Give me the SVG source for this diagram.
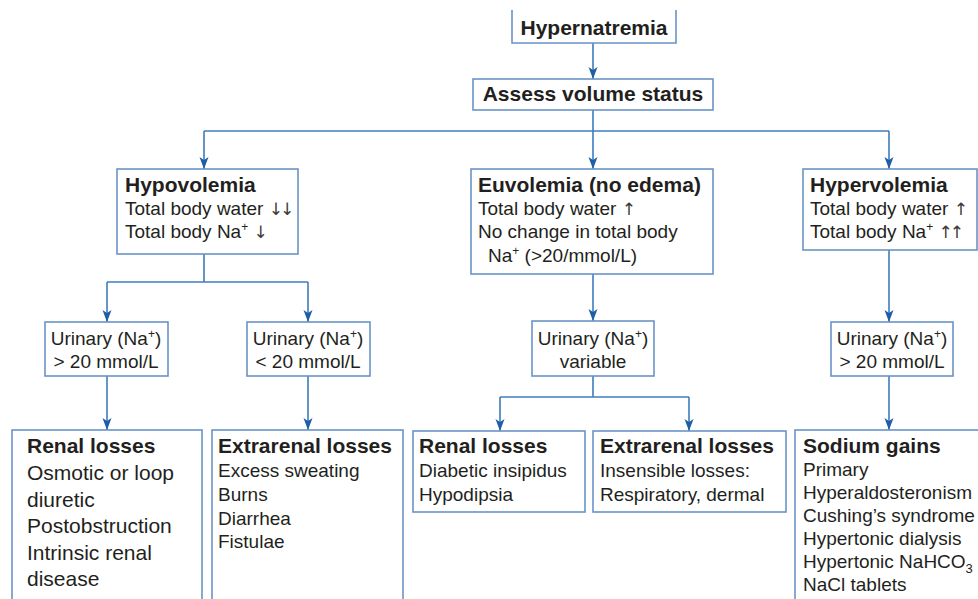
<svg xmlns="http://www.w3.org/2000/svg" width="978" height="599" viewBox="0 0 978 599">
<style>
.box{fill:#ffffff;stroke:#6a93c6;stroke-width:1.6}
.con{fill:none;stroke:#3f7cbc;stroke-width:1.6}
text{font-family:"Liberation Sans",Arial,Helvetica,sans-serif;fill:#231f20}
.h{font-size:21px;font-weight:bold}
.b{font-size:19px}
.bl{font-size:21px}
.c{text-anchor:middle}
.ar{font-family:"DejaVu Sans",sans-serif;fill:#3a3a3a;font-size:17px;letter-spacing:-3px}
</style>
<defs>
<marker id="ah" markerUnits="userSpaceOnUse" markerWidth="12" markerHeight="10" refX="12" refY="5" orient="auto">
<path d="M0,0.5 L12,5 L0,9.5 L3,5 z" fill="#1f5ea6"/>
</marker>
</defs>
<rect width="978" height="599" fill="#ffffff"/>

<g id="connectors">
<path class="con" d="M593,43 V79" marker-end="url(#ah)"/>
<path class="con" d="M593,110 V131"/>
<path class="con" d="M204,131 H889"/>
<path class="con" d="M204,131 V169" marker-end="url(#ah)"/>
<path class="con" d="M593,131 V169" marker-end="url(#ah)"/>
<path class="con" d="M889,131 V169" marker-end="url(#ah)"/>
<path class="con" d="M204,254 V282"/>
<path class="con" d="M107,282 H308"/>
<path class="con" d="M107,282 V322" marker-end="url(#ah)"/>
<path class="con" d="M308,282 V322" marker-end="url(#ah)"/>
<path class="con" d="M107,376 V430" marker-end="url(#ah)"/>
<path class="con" d="M308,376 V430" marker-end="url(#ah)"/>
<path class="con" d="M593,274 V321" marker-end="url(#ah)"/>
<path class="con" d="M593,376 V397"/>
<path class="con" d="M500,397 H689"/>
<path class="con" d="M500,397 V431" marker-end="url(#ah)"/>
<path class="con" d="M689,397 V431" marker-end="url(#ah)"/>
<path class="con" d="M889,250 V322" marker-end="url(#ah)"/>
<path class="con" d="M889,376 V430" marker-end="url(#ah)"/>
</g>

<g id="hypernatremia">
<path class="box" d="M512,10 V43 H676 V10"/>
<text class="h c" x="594" y="35">Hypernatremia</text>
</g>

<g id="assess">
<rect class="box" x="473" y="79" width="240" height="31"/>
<text class="h c" x="593" y="101">Assess volume status</text>
</g>

<g id="hypovolemia">
<rect class="box" x="117" y="169" width="181" height="85"/>
<text class="h" x="125" y="192">Hypovolemia</text>
<text class="b" x="125" y="215">Total body water <tspan class="ar">↓↓</tspan></text>
<text class="b" x="125" y="238">Total body Na<tspan font-size="12" dy="-7">+</tspan><tspan dy="7"> </tspan><tspan class="ar">↓</tspan></text>
</g>

<g id="euvolemia">
<rect class="box" x="471" y="169" width="242" height="105"/>
<text class="h" x="478" y="192">Euvolemia (no edema)</text>
<text class="b" x="478" y="215">Total body water <tspan class="ar">↑</tspan></text>
<text class="b" x="478" y="238">No change in total body</text>
<text class="b" x="488" y="262">Na<tspan font-size="12" dy="-7">+</tspan><tspan dy="7"> (&gt;20/mmol/L)</tspan></text>
</g>

<g id="hypervolemia">
<rect class="box" x="803" y="169" width="174" height="81"/>
<text class="h" x="810" y="192">Hypervolemia</text>
<text class="b" x="810" y="215">Total body water <tspan class="ar">↑</tspan></text>
<text class="b" x="810" y="238">Total body Na<tspan font-size="12" dy="-7">+</tspan><tspan dy="7"> </tspan><tspan class="ar">↑↑</tspan></text>
</g>

<g id="urinary-high-hypo">
<rect class="box" x="45" y="322" width="123" height="54"/>
<text class="b c" x="106" y="345">Urinary (Na<tspan font-size="12" dy="-7">+</tspan><tspan dy="7">)</tspan></text>
<text class="b c" x="106" y="368">&gt; 20 mmol/L</text>
</g>

<g id="urinary-low-hypo">
<rect class="box" x="247" y="322" width="123" height="54"/>
<text class="b c" x="308" y="345">Urinary (Na<tspan font-size="12" dy="-7">+</tspan><tspan dy="7">)</tspan></text>
<text class="b c" x="308" y="368">&lt; 20 mmol/L</text>
</g>

<g id="urinary-variable">
<rect class="box" x="532" y="321" width="122" height="55"/>
<text class="b c" x="593" y="345">Urinary (Na<tspan font-size="12" dy="-7">+</tspan><tspan dy="7">)</tspan></text>
<text class="b c" x="593" y="368">variable</text>
</g>

<g id="urinary-high-hyper">
<rect class="box" x="831" y="322" width="122" height="54"/>
<text class="b c" x="892" y="345">Urinary (Na<tspan font-size="12" dy="-7">+</tspan><tspan dy="7">)</tspan></text>
<text class="b c" x="892" y="368">&gt; 20 mmol/L</text>
</g>

<g id="renal-losses-hypo">
<rect class="box" x="12" y="430" width="190" height="190"/>
<text class="h" x="27" y="453">Renal losses</text>
<text class="bl" x="27" y="480">Osmotic or loop</text>
<text class="bl" x="27" y="507">diuretic</text>
<text class="bl" x="27" y="533">Postobstruction</text>
<text class="bl" x="27" y="560">Intrinsic renal</text>
<text class="bl" x="27" y="586">disease</text>
</g>

<g id="extrarenal-losses-hypo">
<rect class="box" x="212" y="430" width="191" height="190"/>
<text class="h" x="218" y="453">Extrarenal losses</text>
<text class="b" x="218" y="477">Excess sweating</text>
<text class="b" x="218" y="501">Burns</text>
<text class="b" x="218" y="525">Diarrhea</text>
<text class="b" x="218" y="548">Fistulae</text>
</g>

<g id="renal-losses-eu">
<rect class="box" x="413" y="431" width="172" height="81"/>
<text class="h" x="419" y="453">Renal losses</text>
<text class="b" x="419" y="477">Diabetic insipidus</text>
<text class="b" x="419" y="501">Hypodipsia</text>
</g>

<g id="extrarenal-losses-eu">
<rect class="box" x="593" y="431" width="193" height="81"/>
<text class="h" x="600" y="453">Extrarenal losses</text>
<text class="b" x="600" y="477">Insensible losses:</text>
<text class="b" x="600" y="501">Respiratory, dermal</text>
</g>

<g id="sodium-gains">
<rect class="box" x="795" y="430" width="200" height="190"/>
<text class="h" x="803" y="453">Sodium gains</text>
<text class="b" x="803" y="476">Primary</text>
<text class="b" x="803" y="499">Hyperaldosteronism</text>
<text class="b" x="803" y="522">Cushing’s syndrome</text>
<text class="b" x="803" y="545">Hypertonic dialysis</text>
<text class="b" x="803" y="568">Hypertonic NaHCO<tspan font-size="13" dy="5">3</tspan></text>
<text class="b" x="803" y="591">NaCl tablets</text>
</g>
</svg>
